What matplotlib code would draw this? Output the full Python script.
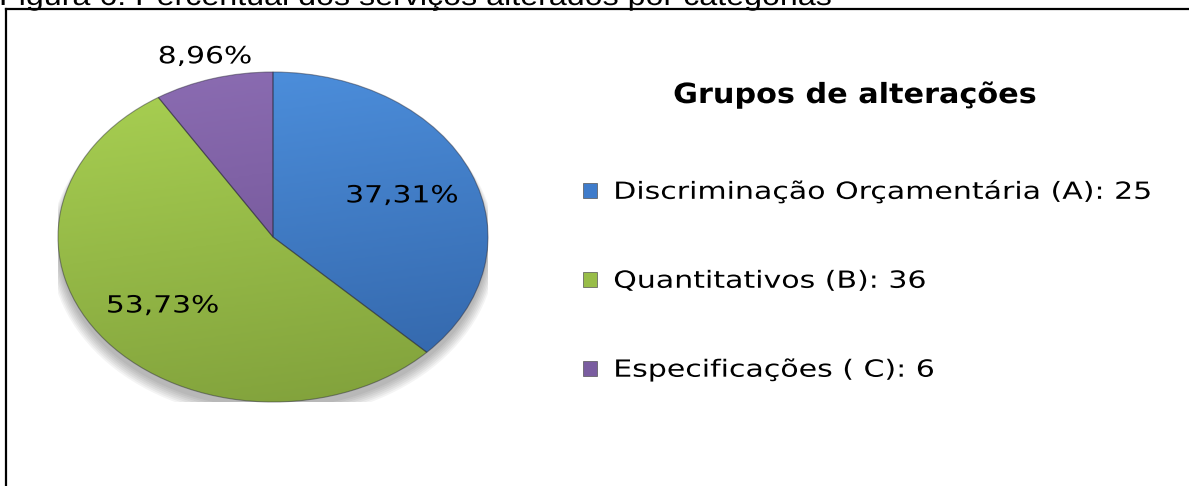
import numpy as np
import matplotlib
matplotlib.use("Agg")
import matplotlib.pyplot as plt
from matplotlib.patches import Ellipse, Rectangle
from matplotlib.lines import Line2D
from matplotlib.colors import LinearSegmentedColormap
from matplotlib.patheffects import AbstractPathEffect
from matplotlib.transforms import Affine2D

# data
categories = ["Discriminação Orçamentária (A)", "Quantitativos (B)", "Especificações ( C)"]
counts = [25, 36, 6]
pct_labels = ["37,31%", "53,73%", "8,96%"]

top_colors = ["#4e91df", "#aad253", "#8c6db3"]
bottom_colors = ["#3163a6", "#80a03b", "#684c8c"]
mid_colors = ["#3f7ccb", "#98bd48", "#7a5da0"]
label_dist = [0.65, 0.66, 1.14]


class Stretch(AbstractPathEffect):
    """Widen the drawn glyphs horizontally (the scan is stretched sideways)."""

    def __init__(self, sx, about="left"):
        super().__init__()
        self.sx = sx
        self.about = about

    def draw_path(self, renderer, gc, tpath, affine, rgbFace=None):
        if self.about == "center":
            ext = tpath.get_extents(affine)
            x0, y0 = (ext.x0 + ext.x1) / 2, 0
        else:
            x0, y0 = affine.transform((0, 0))
        aff = affine + Affine2D().translate(-x0, -y0).scale(self.sx, 1).translate(x0, y0)
        renderer.draw_path(gc, tpath, aff, rgbFace)


W, H = 1189, 486
fig = plt.figure(figsize=(W / 100, H / 100), dpi=100)

# caption of the scanned page, cut at the top edge
cap = fig.text(-1 / W, 1 - 5 / H, "Figura 6: Percentual dos serviços alterados por categorias",
               family="Liberation Sans", fontsize=20, va="baseline", ha="left")
cap.set_path_effects([Stretch(1.16)])

# frame around the chart (top and left edges only are visible)
fig.add_artist(Line2D([6 / W, 1], [1 - 9 / H, 1 - 9 / H], color="black", lw=1.6,
                      transform=fig.transFigure))
fig.add_artist(Line2D([6 / W, 6 / W], [0, 1 - 9 / H], color="black", lw=1.6,
                      transform=fig.transFigure))

ax = fig.add_axes([58 / W, 84 / H, 430 / W, 330 / H])

# soft shadow below the pie
for i in range(7):
    ax.add_patch(Ellipse((0, -0.04 - 0.005 * i), 2.0 + 0.012 * i, 2.0 + 0.012 * i,
                         color="black", alpha=0.045, lw=0, zorder=0))

wedges, _ = ax.pie(counts, startangle=90, counterclock=False, radius=1,
                   wedgeprops=dict(edgecolor=(0.15, 0.15, 0.2, 0.45), linewidth=0.8))

yy, xx = np.mgrid[-1:1:200j, -1:1:200j]
grad = (yy * 0.85 - xx * 0.15 + 1) / 2
for w, c0, c1 in zip(wedges, bottom_colors, top_colors):
    cmap = LinearSegmentedColormap.from_list("g", [c0, c1])
    im = ax.imshow(grad, extent=(-1, 1, -1, 1), origin="lower", cmap=cmap,
                   aspect="auto", zorder=2, interpolation="bilinear")
    im.set_clip_path(w)
    w.set_facecolor("none")
    w.set_zorder(3)

for w, lab, d in zip(wedges, pct_labels, label_dist):
    a = np.radians((w.theta1 + w.theta2) / 2)
    t = ax.text(d * np.cos(a), d * np.sin(a), lab, ha="center", va="center",
                fontsize=17, family="DejaVu Sans", zorder=5)
    t.set_path_effects([Stretch(1.26, "center")])

ax.set_aspect("auto")
ax.set_xlim(-1, 1)
ax.set_ylim(-1, 1)
ax.axis("off")

# legend
proxies = [Rectangle((0, 0), 1, 1, facecolor=c, edgecolor="#555555", lw=0.5) for c in mid_colors]
leg = fig.legend(handles=proxies, labels=[f"{c}: {n}" for c, n in zip(categories, counts)],
                 loc="center left", bbox_to_anchor=(583 / W, 1 - 280 / H), frameon=False,
                 fontsize=17, handlelength=0.6, handleheight=0.6, handletextpad=0.68,
                 labelspacing=2.75, borderpad=0, borderaxespad=0)
for t in leg.get_texts():
    t.set_path_effects([Stretch(1.27)])

title = fig.text(855 / W, 1 - 103 / H, "Grupos de alterações", weight="bold", fontsize=20,
                 ha="center", va="baseline", family="DejaVu Sans")
title.set_path_effects([Stretch(1.09, "center")])

fig.savefig("out.png", dpi=100)
